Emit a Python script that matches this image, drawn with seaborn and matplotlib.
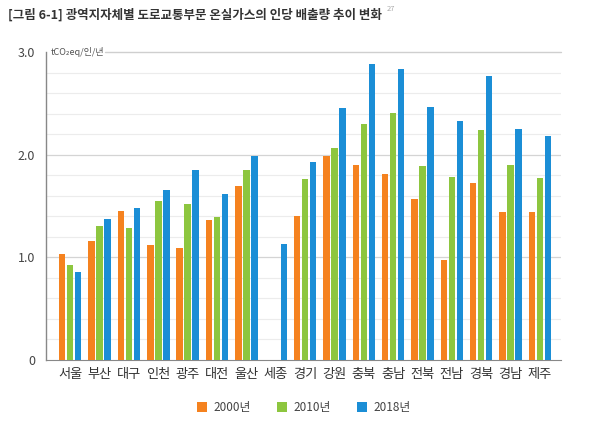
import pandas as pd
import matplotlib.pyplot as plt
import seaborn as sns

sns.set_style("white")
plt.rcParams['font.family'] = ['Noto Sans CJK KR', 'DejaVu Sans']

# 지역별 1인당 도로교통 온실가스 배출량 (tCO2eq/인/년)
regions = ['서울', '부산', '대구', '인천', '광주', '대전', '울산', '세종', '경기',
           '강원', '충북', '충남', '전북', '전남', '경북', '경남', '제주']
y2000 = [1.03, 1.16, 1.45, 1.12, 1.09, 1.36, 1.70, 0.0, 1.40,
         1.99, 1.90, 1.81, 1.57, 0.97, 1.72, 1.44, 1.44]
y2010 = [0.93, 1.31, 1.29, 1.55, 1.52, 1.39, 1.85, 0.0, 1.76,
         2.07, 2.30, 2.41, 1.89, 1.78, 2.24, 1.90, 1.77]
y2018 = [0.86, 1.37, 1.48, 1.66, 1.85, 1.62, 1.99, 1.13, 1.93,
         2.46, 2.88, 2.84, 2.47, 2.33, 2.77, 2.25, 2.18]
years = ['2000년', '2010년', '2018년']
colors = ['#F5821F', '#8DC63F', '#1B8ED6']

df = pd.DataFrame({'지역': regions * 3,
                   '연도': [years[0]] * 17 + [years[1]] * 17 + [years[2]] * 17,
                   '배출량': y2000 + y2010 + y2018})

fig = plt.figure(figsize=(6, 4.24), dpi=100)
ax = fig.add_axes([0.077, 0.151, 0.858, 0.726])

# gridlines
for v in [0.2, 0.4, 0.6, 0.8, 1.2, 1.4, 1.6, 1.8, 2.2, 2.4, 2.6, 2.8]:
    ax.axhline(v, color='#ececec', lw=0.8, zorder=0)
for v in [1.0, 2.0]:
    ax.axhline(v, color='#d4d4d4', lw=0.9, zorder=0)
ax.plot([0.115, 1.0], [3.0, 3.0], transform=ax.get_yaxis_transform(),
        color='#cfcfcf', lw=1.0, zorder=0, clip_on=False)

sns.barplot(data=df, x='지역', y='배출량', hue='연도', palette=colors,
            width=0.82, gap=0.2, saturation=1, linewidth=0, ax=ax, zorder=3)

ax.set_ylim(0, 3.0)
ax.set_xlim(-0.82, 16.72)
ax.set_yticks([0, 1.0, 2.0, 3.0])
ax.set_yticklabels(['0', '1.0', '2.0', '3.0'], color='#444444', fontsize=9)
ax.tick_params(axis='x', labelsize=9.5, colors='#333333', pad=6, length=0)
ax.tick_params(axis='y', length=0, pad=8)
ax.set_xlabel('')
ax.set_ylabel('')
for s in ['top', 'right']:
    ax.spines[s].set_visible(False)
ax.spines['left'].set_color('#888888')
ax.spines['bottom'].set_color('#888888')
ax.spines['left'].set_linewidth(1.0)

ax.text(0.008, 3.0, 'tCO\u2082eq/인/년', transform=ax.get_yaxis_transform(),
        fontsize=6.5, color='#555555', va='center', ha='left')

ax.legend(loc='upper center', bbox_to_anchor=(0.5, -0.1), ncol=3, frameon=False,
          fontsize=8.5, handlelength=0.9, handleheight=0.9, columnspacing=2.2,
          handletextpad=0.5, labelcolor='#444444')

fig.text(0.013, 0.965, '[그림 6-1] 광역지자체별 도로교통부문 온실가스의 인당 배출량 추이 변화',
         fontsize=9, fontweight='bold', color='#333333', va='center', ha='left')
fig.text(0.645, 0.978, '27', fontsize=5.5, color='#aaaaaa', va='center', ha='left')

fig.savefig('out.png', dpi=100)
